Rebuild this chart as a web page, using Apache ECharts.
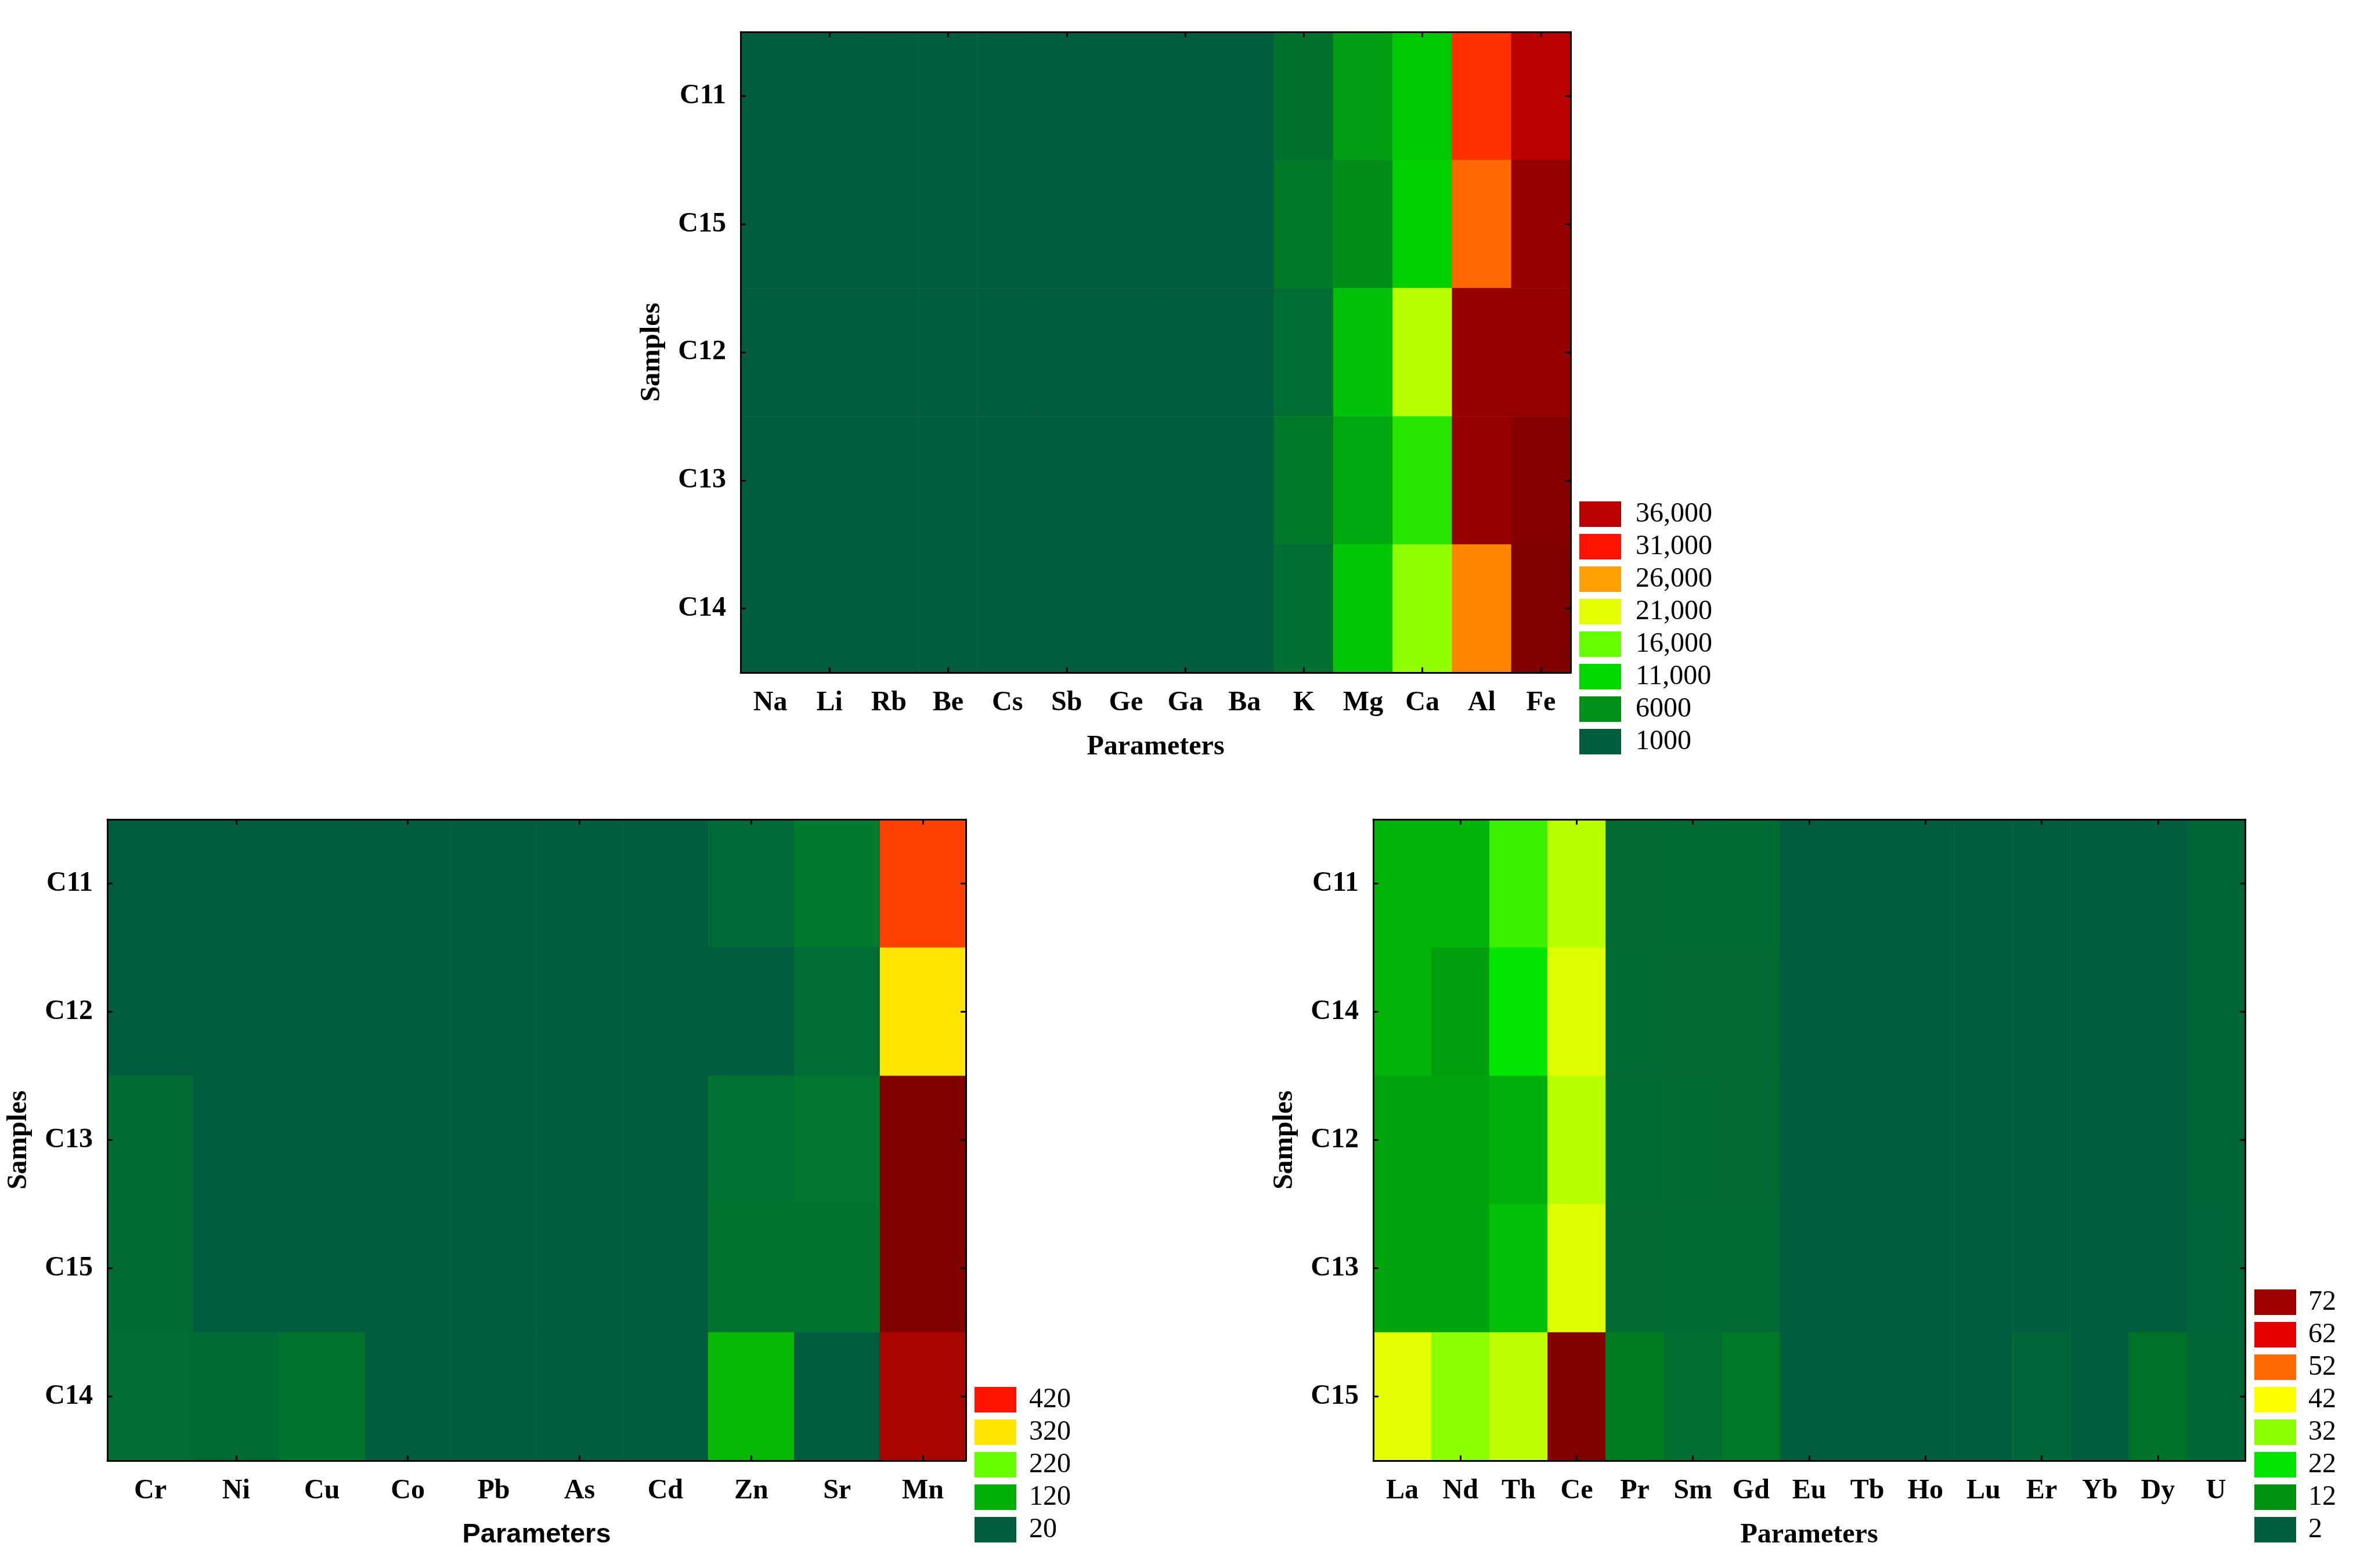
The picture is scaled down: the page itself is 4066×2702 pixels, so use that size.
<!DOCTYPE html>
<html>
<head>
<meta charset="utf-8">
<title>Heatmaps</title>
<script src="https://cdn.jsdelivr.net/npm/echarts@6.0.0/dist/echarts.min.js"></script>
<style>
  html, body { margin: 0; padding: 0; background: #fff; }
  #container { width: 4066px; height: 2702px; }
</style>
</head>
<body>
<div id="container"></div>
<script>
// ---- data: major elements (top panel) ----
var paramsTop = ['Na', 'Li', 'Rb', 'Be', 'Cs', 'Sb', 'Ge', 'Ga', 'Ba', 'K', 'Mg', 'Ca', 'Al', 'Fe'];
var samplesTop = ['C11', 'C15', 'C12', 'C13', 'C14'];
var valuesTop = [
    [620, 35, 60, 4, 8, 3, 2, 25, 410, 2900, 7000, 9900, 29900, 36000],
    [580, 30, 55, 3, 7, 3, 2, 22, 380, 3800, 5700, 10600, 28000, 39000],
    [640, 38, 62, 4, 9, 3, 2, 26, 430, 2600, 9300, 19200, 39100, 39100],
    [600, 33, 58, 4, 8, 3, 2, 24, 400, 3700, 7700, 12800, 39100, 40300],
    [560, 31, 54, 3, 7, 3, 2, 21, 370, 2700, 9800, 17700, 27000, 41000]
];
var levelsTop = [1000, 6000, 11000, 16000, 21000, 26000, 31000, 36000];
var levelLabelsTop = ['1000', '6000', '11,000', '16,000', '21,000', '26,000', '31,000', '36,000'];

// ---- data: trace elements (bottom left) ----
var paramsBL = ['Cr', 'Ni', 'Cu', 'Co', 'Pb', 'As', 'Cd', 'Zn', 'Sr', 'Mn'];
var samplesBL = ['C11', 'C12', 'C13', 'C15', 'C14'];
var valuesBL = [
    [14, 8, 10, 3, 6, 4, 1, 34, 53, 398],
    [16, 9, 11, 3, 7, 4, 1, 18, 38, 320],
    [37, 9, 12, 4, 7, 5, 1, 44, 48, 520],
    [36, 10, 12, 4, 6, 5, 1, 45, 47, 520],
    [38, 37, 47, 5, 8, 5, 1, 128, 18, 487]
];
var levelsBL = [20, 120, 220, 320, 420];
var levelLabelsBL = ['20', '120', '220', '320', '420'];

// ---- data: rare earths (bottom right) ----
var paramsBR = ['La', 'Nd', 'Th', 'Ce', 'Pr', 'Sm', 'Gd', 'Eu', 'Tb', 'Ho', 'Lu', 'Er', 'Yb', 'Dy', 'U'];
var samplesBR = ['C11', 'C14', 'C12', 'C13', 'C15'];
var valuesBR = [
    [16, 16, 26, 36, 4.3, 4.2, 4.4, 1.2, 0.4, 0.6, 0.2, 1.8, 1.6, 1.9, 3.6],
    [16, 13.5, 22, 39, 4.2, 4.3, 4.3, 1.1, 0.4, 0.6, 0.2, 1.7, 1.5, 1.9, 3.7],
    [14, 14, 15.5, 36, 4.4, 4.2, 4.3, 1.2, 0.4, 0.7, 0.2, 1.8, 1.6, 2.0, 3.6],
    [14, 14, 17.4, 39, 4.3, 4.4, 4.2, 1.3, 0.5, 0.6, 0.2, 1.9, 1.6, 1.9, 3.5],
    [39.8, 32, 36.3, 80, 7.8, 5, 7, 1.4, 0.5, 0.7, 0.3, 3.5, 1.8, 6, 3.6]
];
var levelsBR = [2, 12, 22, 32, 42, 52, 62, 72];
var levelLabelsBR = ['2', '12', '22', '32', '42', '52', '62', '72'];

// colour scales (one stop per level, plus the dark tail above the last level)
var colorsTop = ['#005E3E', '#009017', '#00D800', '#66FF00', '#E6FF00', '#FFA000', '#FF1200', '#BB0000', '#800000'];
var colorsBL = ['#005E3E', '#00B208', '#66FF00', '#FFE500', '#FF1200', '#800000'];
var colorsBR = ['#005E3E', '#00930F', '#00E600', '#8CFF00', '#FFFF00', '#FF6A00', '#E60000', '#A00000', '#7A0000'];

var serif = 'Liberation Serif';
var labelFont = { color: '#000', fontFamily: serif, fontWeight: 'bold', fontSize: 48 };

var panels = [
    { params: paramsTop, samples: samplesTop, values: valuesTop, levels: levelsTop, labels: levelLabelsTop, colors: colorsTop,
      grid: { left: 1276, top: 55, width: 1430, height: 1104 }, legend: { left: 2721, top: 862, textGap: 25 }, titleFont: serif },
    { params: paramsBL, samples: samplesBL, values: valuesBL, levels: levelsBL, labels: levelLabelsBL, colors: colorsBL,
      grid: { left: 185, top: 1412, width: 1479, height: 1105 }, legend: { left: 1679, top: 2388, textGap: 22 }, titleFont: 'Liberation Sans' },
    { params: paramsBR, samples: samplesBR, values: valuesBR, levels: levelsBR, labels: levelLabelsBR, colors: colorsBR,
      grid: { left: 2366, top: 1412, width: 1502, height: 1105 }, legend: { left: 3884, top: 2220, textGap: 21 }, titleFont: serif }
];

var axisLine = { show: true, lineStyle: { color: '#000', width: 3 } };
var oddTicks = function (idx) { return idx % 2 === 1; };

var option = { animation: false, backgroundColor: '#fff', grid: [], xAxis: [], yAxis: [], series: [], visualMap: [] };

panels.forEach(function (p, i) {
    option.grid.push(Object.assign({ containLabel: false }, p.grid));

    // bottom axis with labels + top mirror axis
    option.xAxis.push({
        type: 'category', gridIndex: i, data: p.params, position: 'bottom', z: 10,
        axisLine: axisLine,
        axisTick: { show: true, inside: true, alignWithLabel: true, interval: oddTicks, length: 9, lineStyle: { color: '#000', width: 3 } },
        axisLabel: Object.assign({ interval: 0, margin: 29 }, labelFont),
        splitLine: { show: false },
        name: 'Parameters', nameLocation: 'middle', nameGap: 105,
        nameTextStyle: { color: '#000', fontFamily: p.titleFont, fontWeight: 'bold', fontSize: i === 1 ? 47 : 48 }
    });
    option.xAxis.push({
        type: 'category', gridIndex: i, data: p.params, position: 'top', z: 10,
        axisLine: axisLine,
        axisTick: { show: true, inside: true, alignWithLabel: true, interval: oddTicks, length: 9, lineStyle: { color: '#000', width: 3 } },
        axisLabel: { show: false }, splitLine: { show: false }
    });

    option.yAxis.push({
        type: 'category', gridIndex: i, data: p.samples, inverse: true, position: 'left', z: 10,
        axisLine: axisLine,
        axisTick: { show: true, inside: true, alignWithLabel: true, length: 9, lineStyle: { color: '#000', width: 3 } },
        axisLabel: Object.assign({ interval: 0, margin: 25 }, labelFont),
        splitLine: { show: false },
        name: 'Samples', nameLocation: 'middle', nameGap: 128, nameRotate: 90,
        nameTextStyle: { color: '#000', fontFamily: serif, fontWeight: 'bold', fontSize: 48 }
    });
    option.yAxis.push({
        type: 'category', gridIndex: i, data: p.samples, inverse: true, position: 'right', z: 10,
        axisLine: axisLine,
        axisTick: { show: true, inside: true, alignWithLabel: true, length: 9, lineStyle: { color: '#000', width: 3 } },
        axisLabel: { show: false }, splitLine: { show: false }
    });

    var data = [];
    p.values.forEach(function (row, r) {
        row.forEach(function (v, c) { data.push([c, r, v]); });
    });
    option.series.push({
        type: 'heatmap', xAxisIndex: i * 2, yAxisIndex: i * 2, data: data,
        itemStyle: { borderWidth: 0 }, emphasis: { disabled: true }, progressive: 0
    });

    var step = p.levels[1] - p.levels[0];
    // smooth colouring of the cells
    option.visualMap.push({
        type: 'continuous', show: false, seriesIndex: i, dimension: 2,
        min: p.levels[0], max: p.levels[p.levels.length - 1] + step * (p.colors.length - p.levels.length),
        inRange: { color: p.colors },
        outOfRange: { color: [p.colors[0]] }
    });
    // level legend
    option.visualMap.push({
        type: 'piecewise', seriesIndex: [], orient: 'vertical', align: 'left',
        left: p.legend.left, top: p.legend.top, padding: 0,
        itemWidth: 72, itemHeight: 44, itemGap: 8, textGap: p.legend.textGap, itemSymbol: 'rect',
        pieces: p.levels.map(function (v, k) { return { value: v, label: p.labels[k], color: p.colors[k] }; }),
        textStyle: { color: '#000', fontFamily: serif, fontSize: 48 }
    });
});

var myChart = echarts.init(document.getElementById('container'));
myChart.setOption(option);
</script>
</body>
</html>
